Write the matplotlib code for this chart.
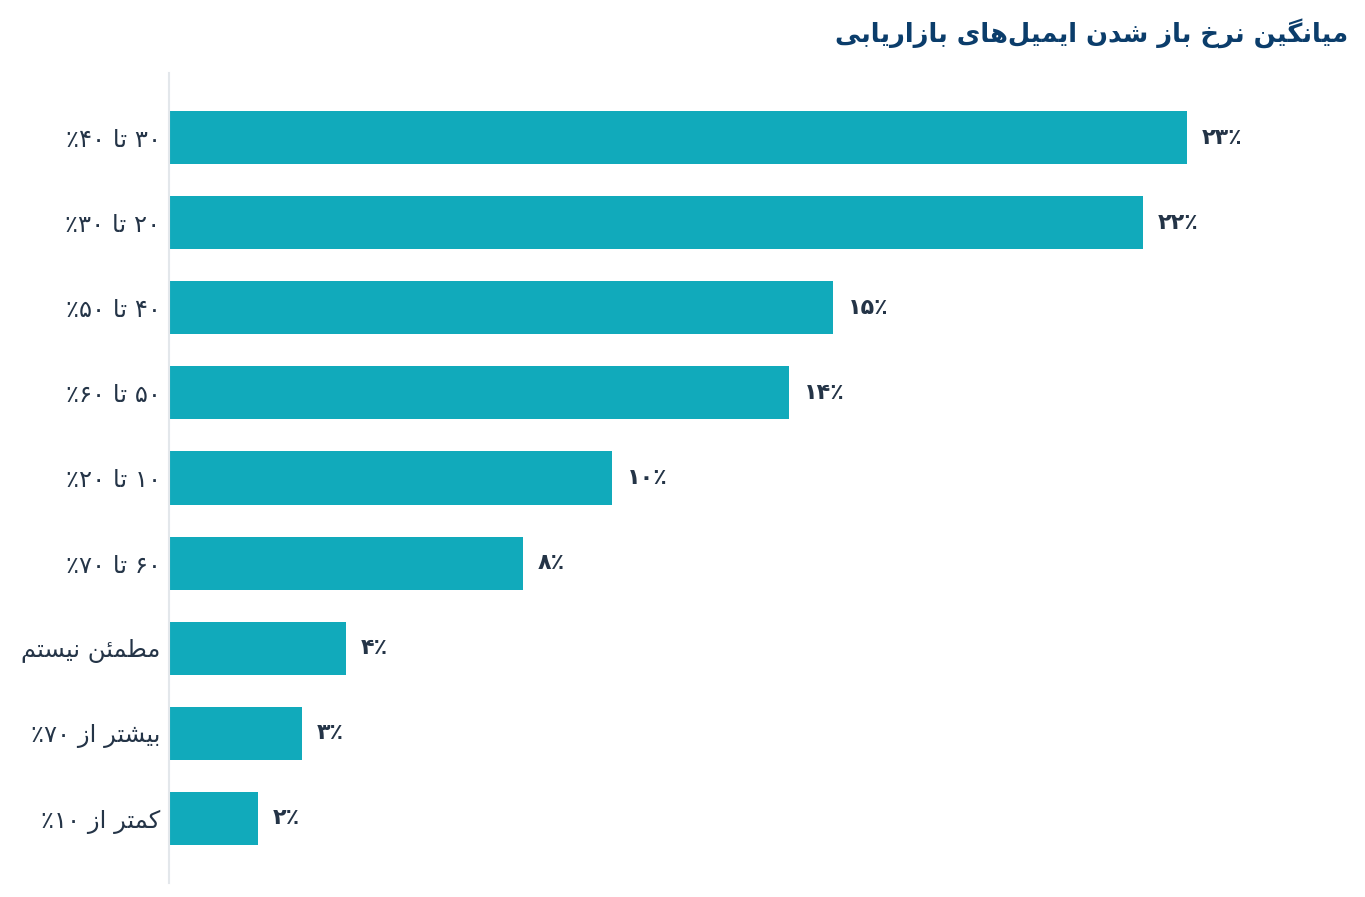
import re
import matplotlib
matplotlib.use("Agg")
import matplotlib.pyplot as plt

# data (top to bottom)
categories = ["۳۰ تا ۴۰٪", "۲۰ تا ۳۰٪", "۴۰ تا ۵۰٪", "۵۰ تا ۶۰٪", "۱۰ تا ۲۰٪",
              "۶۰ تا ۷۰٪", "مطمئن نیستم", "بیشتر از ۷۰٪", "کمتر از ۱۰٪"]
values = [23, 22, 15, 14, 10, 8, 4, 3, 2]
title = "میانگین نرخ باز شدن ایمیل\u200cهای بازاریابی"

# arabic presentation forms: isolated, final, initial, medial
FORMS = {
    "ا": ("\uFE8D", "\uFE8E", None, None),
    "ب": ("\uFE8F", "\uFE90", "\uFE91", "\uFE92"),
    "ت": ("\uFE95", "\uFE96", "\uFE97", "\uFE98"),
    "خ": ("\uFEA5", "\uFEA6", "\uFEA7", "\uFEA8"),
    "د": ("\uFEA9", "\uFEAA", None, None),
    "ر": ("\uFEAD", "\uFEAE", None, None),
    "ز": ("\uFEAF", "\uFEB0", None, None),
    "س": ("\uFEB1", "\uFEB2", "\uFEB3", "\uFEB4"),
    "ش": ("\uFEB5", "\uFEB6", "\uFEB7", "\uFEB8"),
    "ط": ("\uFEC1", "\uFEC2", "\uFEC3", "\uFEC4"),
    "ل": ("\uFEDD", "\uFEDE", "\uFEDF", "\uFEE0"),
    "م": ("\uFEE1", "\uFEE2", "\uFEE3", "\uFEE4"),
    "ن": ("\uFEE5", "\uFEE6", "\uFEE7", "\uFEE8"),
    "ه": ("\uFEE9", "\uFEEA", "\uFEEB", "\uFEEC"),
    "ئ": ("\uFE89", "\uFE8A", "\uFE8B", "\uFE8C"),
    "ی": ("\uFBFC", "\uFBFD", "\uFBFE", "\uFBFF"),
    "ک": ("\uFB8E", "\uFB8F", "\uFB90", "\uFB91"),
    "گ": ("\uFB92", "\uFB93", "\uFB94", "\uFB95"),
}


def rtl(s):
    out = []
    for i, ch in enumerate(s):
        if ch not in FORMS:
            out.append(ch)
            continue
        prev = s[i - 1] if i > 0 else ""
        nxt = s[i + 1] if i + 1 < len(s) else ""
        jp = prev in FORMS and FORMS[prev][2] is not None
        jn = nxt in FORMS and FORMS[ch][2] is not None
        iso, fin, ini, med = FORMS[ch]
        if jp and jn:
            out.append(med)
        elif jp:
            out.append(fin)
        elif jn:
            out.append(ini)
        else:
            out.append(iso)
    txt = "".join(out).replace("\u200c", "")
    # visual order: reverse, but keep digit runs left to right
    return re.sub(r"[۰-۹0-9]+", lambda m: m.group()[::-1], txt[::-1])


def fa(n):
    return str(n).translate(str.maketrans("0123456789", "۰۱۲۳۴۵۶۷۸۹"))


bar_color = "#11aabb"
text_color = "#243447"

fig = plt.figure(figsize=(13.65, 8.97), dpi=100)
ax = fig.add_axes([169 / 1365, 14 / 897, 1150 / 1365, 810 / 897])

pos = list(range(len(values)))
ax.barh(pos, values, height=0.623, color=bar_color)
ax.set_ylim(len(values) - 1 + 0.758, -0.758)
ax.set_xlim(0, 1150 / 44.26)

for p, v in zip(pos, values):
    ax.annotate(fa(v) + "٪", (v, p), xytext=(15, 0), textcoords="offset pixels",
                ha="left", va="center", fontsize=16, fontweight="bold", color=text_color)

ax.set_yticks(pos)
ax.set_yticklabels([rtl(c) for c in categories], fontsize=17.5, color=text_color)
ax.tick_params(axis="y", length=0, pad=6)
ax.set_xticks([])
for s in ["top", "right", "bottom"]:
    ax.spines[s].set_visible(False)
ax.spines["left"].set_color("#e3e7eb")
ax.spines["left"].set_linewidth(1.5)

fig.text(1348 / 1365, 1 - 33 / 897, rtl(title), ha="right", va="center",
         fontsize=18.5, fontweight="bold", color="#0b3d6b")

fig.savefig("out.png", dpi=100, facecolor="white")
